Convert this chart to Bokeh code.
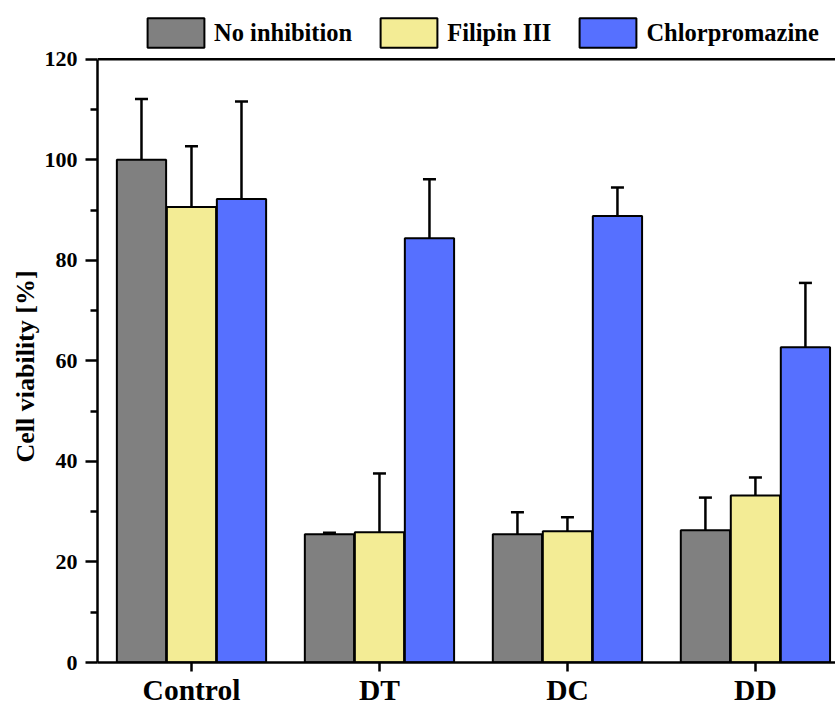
import numpy as np
from bokeh.plotting import figure
from bokeh.models import (Range1d, ColumnDataSource, Whisker, TeeHead, Legend,
                          LegendItem, Span, FixedTicker, Title)
from bokeh.embed import file_html
from bokeh.resources import INLINE

categories = ["Control", "DT", "DC", "DD"]
series = ["No inhibition", "Filipin III", "Chlorpromazine"]
no_inhibition = [100.0, 25.5, 25.5, 26.3]
no_inhibition_err = [12.1, 0.3, 4.4, 6.5]
filipin = [90.6, 25.9, 26.1, 33.2]
filipin_err = [12.1, 11.7, 2.8, 3.6]
chlorpromazine = [92.2, 84.4, 88.8, 62.7]
chlorpromazine_err = [19.4, 11.7, 5.7, 12.8]
colors = ["#808080", "#F3EC95", "#5670FF"]
y_ticks = [0, 20, 40, 60, 80, 100, 120]
y_title = "Cell viability [%]"

FONT = "Liberation Serif"

# frame spans page y 8..666; axis 0..120 occupies 59..666, headroom holds the legend
Y_MAX = 120
y_end = Y_MAX * (666 - 8) / (666 - 59)

p = figure(width=835, height=708, x_range=Range1d(-0.5, 3.426), y_range=Range1d(0, y_end),
           output_backend="svg", toolbar_location=None,
           min_border_left=97, min_border_right=0, min_border_top=8, min_border_bottom=42)
p.grid.visible = False
p.outline_line_color = None
p.background_fill_color = "white"
p.border_fill_color = "white"

x_base = np.arange(len(categories), dtype=float)
offsets = [-0.266, 0.0, 0.266]
vals_list = [no_inhibition, filipin, chlorpromazine]
errs_list = [no_inhibition_err, filipin_err, chlorpromazine_err]

renderers = []
for off, vals, errs, col in zip(offsets, vals_list, errs_list, colors):
    vals = np.array(vals)
    errs = np.array(errs)
    src = ColumnDataSource(dict(x=x_base + off, top=vals, upper=vals + errs))
    r = p.vbar(x="x", top="top", bottom=0, width=0.262, fill_color=col,
               line_color="black", line_width=2, source=src)
    renderers.append(r)
    w = Whisker(base="x", lower="top", upper="upper", source=src, lower_head=None,
                upper_head=TeeHead(size=13, line_width=2.5, line_color="black"),
                line_width=2.5, line_color="black")
    p.add_layout(w)

p.add_layout(Span(location=Y_MAX, dimension="width", line_color="black", line_width=2.5))

xa = p.xaxis[0]
xa.ticker = FixedTicker(ticks=list(x_base))
xa.major_label_overrides = {i: c for i, c in enumerate(categories)}
xa.major_tick_out = 9
xa.major_tick_in = 0
xa.minor_tick_out = 0
xa.minor_tick_in = 0
xa.axis_line_width = 2.5
xa.major_tick_line_width = 2.5
xa.major_label_text_font = FONT
xa.major_label_text_font_style = "bold"
xa.major_label_text_font_size = "29.5px"
xa.major_label_text_color = "black"
xa.major_label_standoff = 2

minor = [(a + b) / 2 for a, b in zip(y_ticks[:-1], y_ticks[1:])]
ya = p.yaxis[0]
ya.bounds = (0, Y_MAX)
ya.ticker = FixedTicker(ticks=y_ticks, minor_ticks=minor)
ya.major_tick_out = 12
ya.major_tick_in = 0
ya.minor_tick_out = 7
ya.minor_tick_in = 0
ya.axis_line_width = 2.5
ya.major_tick_line_width = 2.5
ya.minor_tick_line_width = 2.5
ya.major_label_text_font = FONT
ya.major_label_text_font_style = "bold"
ya.major_label_text_font_size = "22px"
ya.major_label_text_color = "black"
ya.major_label_standoff = 8

# y-axis title as a side Title so it can sit where the reference puts it
p.add_layout(Title(text=y_title, align="left", offset=200, text_font=FONT,
                   text_font_style="bold", text_font_size="26px", text_color="black",
                   standoff=4), "left")

legend = Legend(items=[LegendItem(label=s, renderers=[r]) for s, r in zip(series, renderers)],
                orientation="horizontal", location=(43, 611),
                glyph_width=71, glyph_height=37, label_standoff=3, spacing=21,
                padding=0, margin=0, border_line_color=None, background_fill_alpha=0,
                label_text_font=FONT, label_text_font_style="bold",
                label_text_font_size="24.5px", label_text_color="black", label_height=37)
p.add_layout(legend, "center")

open("out.html", "w").write(file_html(p, INLINE))
